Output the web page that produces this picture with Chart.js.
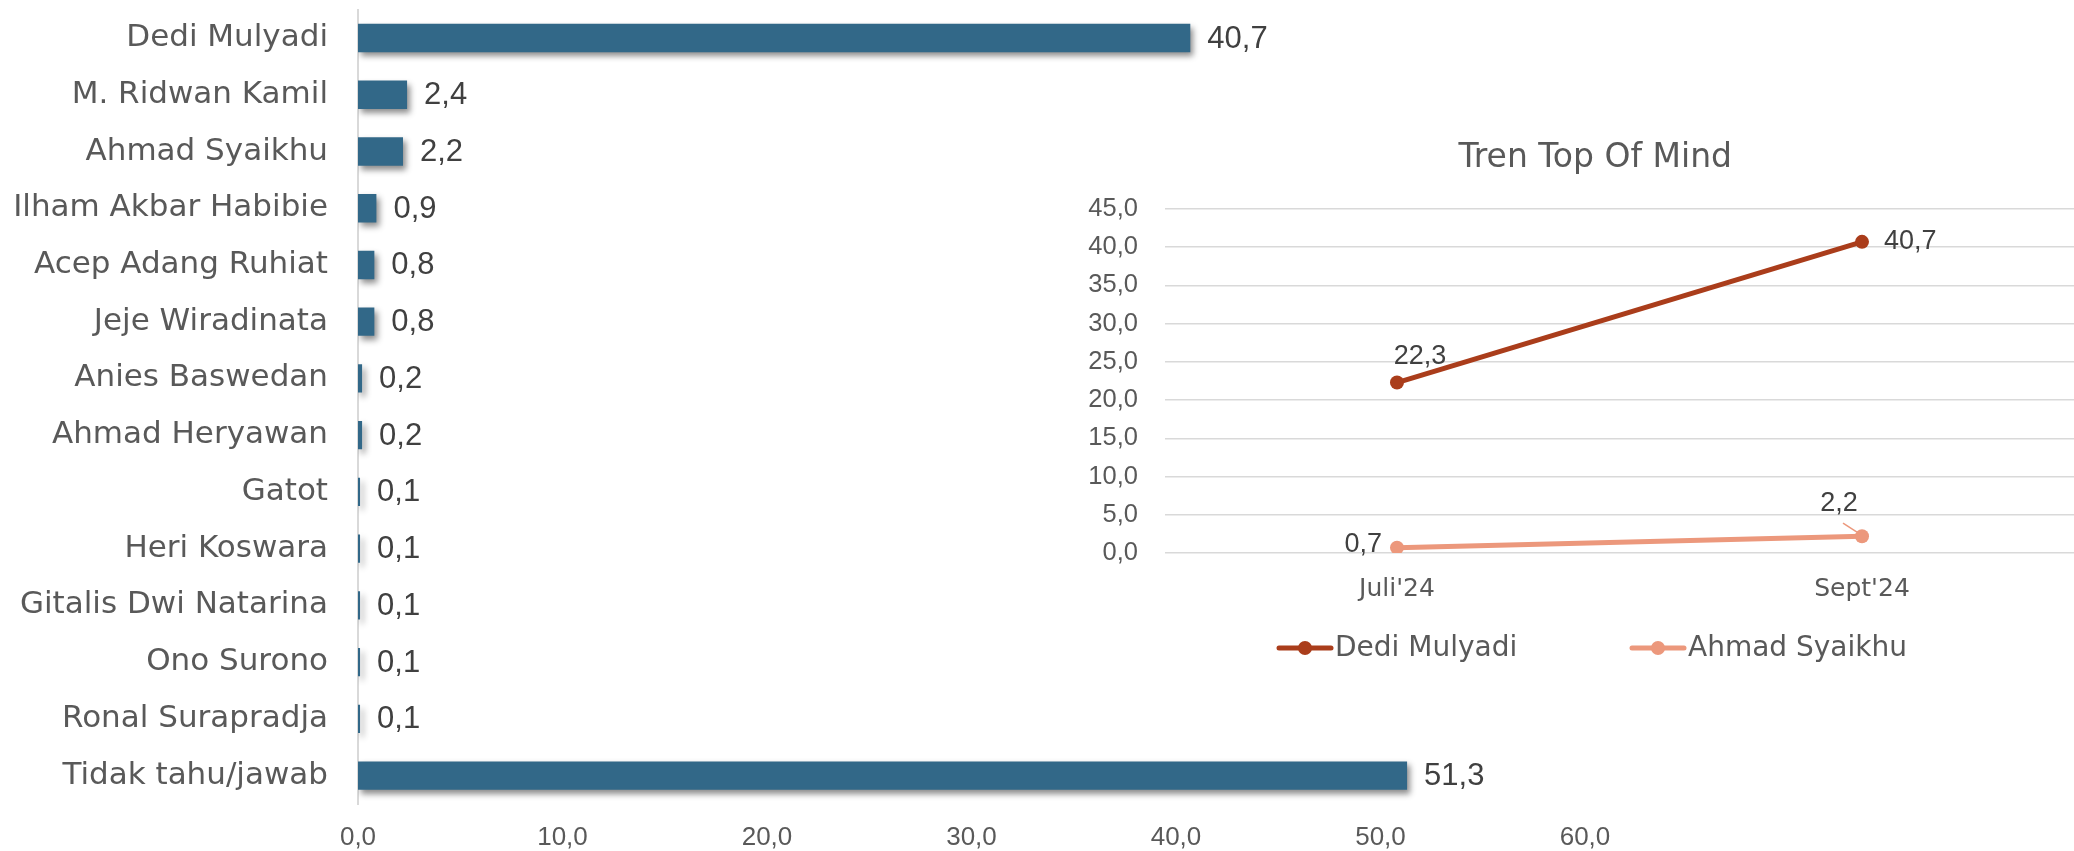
<!DOCTYPE html>
<html>
<head>
<meta charset="utf-8">
<script src="https://cdn.jsdelivr.net/npm/chart.js@4.4.1/dist/chart.umd.min.js"></script>
<style>
  html, body { margin: 0; padding: 0; background: #fff; overflow: hidden; width: 2074px; height: 851px; }
  #barChart { position: absolute; left: 0; top: 0; }
  #lineChart { position: absolute; left: 1040px; top: 120px; }
</style>
</head>
<body>
<canvas id="barChart" width="2074" height="851"></canvas>
<canvas id="lineChart" width="1114" height="560"></canvas>
<script>
// bar chart data
var candidates = ['Dedi Mulyadi', 'M. Ridwan Kamil', 'Ahmad Syaikhu', 'Ilham Akbar Habibie',
    'Acep Adang Ruhiat', 'Jeje Wiradinata', 'Anies Baswedan', 'Ahmad Heryawan', 'Gatot',
    'Heri Koswara', 'Gitalis Dwi Natarina', 'Ono Surono', 'Ronal Surapradja', 'Tidak tahu/jawab'];
var topOfMind = [40.7, 2.4, 2.2, 0.9, 0.8, 0.8, 0.2, 0.2, 0.1, 0.1, 0.1, 0.1, 0.1, 51.3];
var barTicks = [0, 10, 20, 30, 40, 50, 60];

// trend chart data
var periods = ["Juli'24", "Sept'24"];
var dediTrend = [22.3, 40.7];
var syaikhuTrend = [0.7, 2.2];
var trendTicks = [0, 5, 10, 15, 20, 25, 30, 35, 40, 45];

var textGray = '#595959';
var labelGray = '#404040';

function fmt(v) {
    return Number(v).toFixed(1).replace('.', ',');
}

Chart.defaults.font.family = 'DejaVu Sans';
Chart.defaults.color = textGray;

// soft shadow under the bars, like the office chart
var barShadow = {
    id: 'barShadow',
    beforeDatasetsDraw: function (chart) {
        var ctx = chart.ctx;
        ctx.save();
        ctx.shadowColor = 'rgba(0,0,0,0.45)';
        ctx.shadowOffsetX = 3;
        ctx.shadowOffsetY = 4;
        ctx.shadowBlur = 6;
    },
    afterDatasetsDraw: function (chart) {
        chart.ctx.restore();
    }
};

var barValueLabels = {
    id: 'barValueLabels',
    afterDatasetsDraw: function (chart) {
        var ctx = chart.ctx;
        var meta = chart.getDatasetMeta(0);
        var values = chart.data.datasets[0].data;
        ctx.save();
        ctx.font = '31px "Liberation Sans"';
        ctx.fillStyle = labelGray;
        ctx.textAlign = 'left';
        ctx.textBaseline = 'middle';
        meta.data.forEach(function (bar, i) {
            ctx.fillText(fmt(values[i]), bar.x + 17, bar.y + 1);
        });
        ctx.restore();
    }
};

new Chart(document.getElementById('barChart').getContext('2d'), {
    type: 'bar',
    data: {
        labels: candidates,
        datasets: [{
            data: topOfMind,
            backgroundColor: '#326888',
            barPercentage: 0.5,
            categoryPercentage: 1.0
        }]
    },
    options: {
        indexAxis: 'y',
        responsive: false,
        animation: false,
        layout: { padding: { top: 9.6, right: 489, bottom: 0, left: 0 } },
        plugins: { legend: { display: false }, tooltip: { enabled: false } },
        scales: {
            x: {
                min: 0,
                max: 60,
                grid: { display: false, drawTicks: false },
                border: { display: false },
                ticks: {
                    padding: 18,
                    color: textGray,
                    font: { family: 'Liberation Sans', size: 26 },
                    callback: function (v) { return fmt(v); }
                },
                afterBuildTicks: function (scale) {
                    scale.ticks = barTicks.map(function (v) { return { value: v }; });
                },
                afterFit: function (scale) { scale.height = 47; }
            },
            y: {
                grid: { display: false, drawTicks: false },
                border: { display: true, color: '#D9D9D9', width: 2 },
                ticks: {
                    autoSkip: false,
                    padding: 30,
                    color: textGray,
                    font: { family: 'DejaVu Sans', size: 31 }
                },
                afterFit: function (scale) {
                    scale.width = 358;
                    scale.paddingTop = 0;
                    scale.paddingBottom = 0;
                }
            }
        }
    },
    plugins: [barShadow, barValueLabels]
});

// where each point label sits next to its marker
var trendLabelPlace = [
    [{ dx: 23, dy: -26, align: 'center' }, { dx: 22, dy: 0, align: 'left' }],
    [{ dx: -15, dy: -3, align: 'right' }, { dx: -23, dy: -33, align: 'center', leader: true }]
];

var trendValueLabels = {
    id: 'trendValueLabels',
    afterDatasetsDraw: function (chart) {
        var ctx = chart.ctx;
        ctx.save();
        ctx.font = '27px "Liberation Sans"';
        ctx.fillStyle = labelGray;
        ctx.textBaseline = 'middle';
        chart.data.datasets.forEach(function (ds, d) {
            chart.getDatasetMeta(d).data.forEach(function (pt, i) {
                var p = trendLabelPlace[d][i];
                if (p.leader) {
                    ctx.strokeStyle = ds.borderColor;
                    ctx.lineWidth = 1.5;
                    ctx.beginPath();
                    ctx.moveTo(pt.x - 19, pt.y - 13);
                    ctx.lineTo(pt.x - 5, pt.y - 4);
                    ctx.stroke();
                }
                ctx.textAlign = p.align;
                ctx.fillText(fmt(ds.data[i]), pt.x + p.dx, pt.y + p.dy);
            });
        });
        ctx.restore();
    }
};

// legend with a line + marker sample
var trendLegend = {
    id: 'trendLegend',
    afterDraw: function (chart) {
        var ctx = chart.ctx;
        var starts = [237, 590];
        var y = chart.chartArea.bottom + 95;
        ctx.save();
        ctx.font = '28px "DejaVu Sans"';
        ctx.textBaseline = 'middle';
        ctx.textAlign = 'left';
        chart.data.datasets.forEach(function (ds, d) {
            var x = starts[d];
            ctx.strokeStyle = ds.borderColor;
            ctx.lineWidth = 5;
            ctx.lineCap = 'round';
            ctx.beginPath();
            ctx.moveTo(x + 2, y);
            ctx.lineTo(x + 54, y);
            ctx.stroke();
            ctx.fillStyle = ds.borderColor;
            ctx.beginPath();
            ctx.arc(x + 28, y, 7, 0, Math.PI * 2);
            ctx.fill();
            ctx.fillStyle = textGray;
            ctx.fillText(ds.label, x + 58, y + 1);
        });
        ctx.restore();
    }
};

// the title sits centred over the whole chart object, not the padded box
var shiftTitle = {
    id: 'shiftTitle',
    afterLayout: function (chart) {
        if (chart.titleBlock) {
            chart.titleBlock.left += 28;
            chart.titleBlock.right += 28;
        }
    }
};

new Chart(document.getElementById('lineChart').getContext('2d'), {
    type: 'line',
    data: {
        labels: periods,
        datasets: [{
            label: 'Dedi Mulyadi',
            data: dediTrend,
            borderColor: '#AA3D1B',
            backgroundColor: '#AA3D1B',
            borderWidth: 5,
            pointRadius: 7,
            pointBorderWidth: 0,
            pointBackgroundColor: '#AA3D1B'
        }, {
            label: 'Ahmad Syaikhu',
            data: syaikhuTrend,
            borderColor: '#EC987C',
            backgroundColor: '#EC987C',
            borderWidth: 5,
            pointRadius: 7,
            pointBorderWidth: 0,
            pointBackgroundColor: '#EC987C'
        }]
    },
    options: {
        responsive: false,
        animation: false,
        layout: { padding: { left: 0, right: 59.5, top: 0, bottom: 67 } },
        plugins: {
            legend: { display: false },
            tooltip: { enabled: false },
            title: {
                display: true,
                text: 'Tren Top Of Mind',
                color: textGray,
                font: { family: 'DejaVu Sans', size: 33, weight: 'normal' },
                padding: { top: 19, bottom: 30.4 }
            }
        },
        scales: {
            x: {
                offset: true,
                grid: { display: false, drawTicks: false },
                border: { display: false },
                ticks: { padding: 21.5, color: textGray, font: { family: 'DejaVu Sans', size: 25 } },
                afterFit: function (scale) { scale.height = 60; }
            },
            y: {
                min: 0,
                max: 45,
                grid: { color: '#D9D9D9', lineWidth: 1.5, drawTicks: false },
                border: { display: false },
                ticks: {
                    padding: 26.5,
                    color: textGray,
                    font: { family: 'Liberation Sans', size: 25.5 },
                    callback: function (v) { return fmt(v); }
                },
                afterBuildTicks: function (scale) {
                    scale.ticks = trendTicks.map(function (v) { return { value: v }; });
                },
                afterFit: function (scale) { scale.width = 124.5; }
            }
        }
    },
    plugins: [trendValueLabels, trendLegend, shiftTitle]
});
</script>
</body>
</html>
